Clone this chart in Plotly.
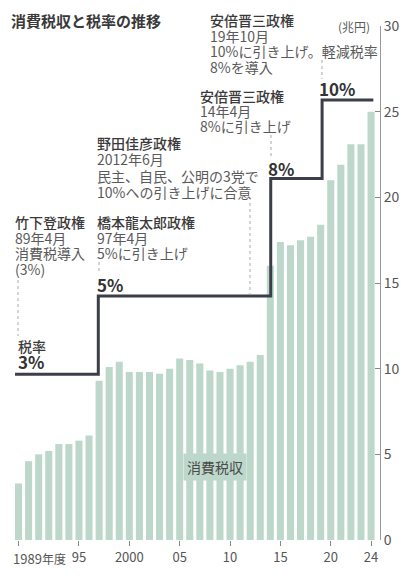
import plotly.graph_objects as go

# 消費税収（兆円）1989〜2024年度
years = list(range(1989, 2025))
revenue = [3.3, 4.6, 5.0, 5.2, 5.6, 5.6, 5.8, 6.1, 9.3, 10.1, 10.4, 9.8,
           9.8, 9.8, 9.7, 10.0, 10.6, 10.5, 10.3, 9.9, 9.8, 10.0, 10.2, 10.4,
           10.8, 16.0, 17.4, 17.2, 17.5, 17.7, 18.4, 21.0, 21.9, 23.1, 23.1, 25.0]

# 税率の推移（段階線）
rate_x = [1988.65, 1996.92, 2014.04, 2019.14, 2024.23]
rate_y = [3, 5, 8, 10, 10]

tick_vals = [1989, 1995, 2000, 2005, 2010, 2015, 2020, 2024]
tick_text = ["", "95", "2000", "05", "10", "15", "20", "24"]

# ページの余白(8px)を差し引いた大きさ
W, H = 399, 568
L, R, T, B = 5, 27, 18, 36
FONT = "Noto Sans CJK JP"
BAR = "#bdd8ca"
LINE = "#3c3f49"
DARK = "#3a3a3a"
GRAY = "#5a5a5a"

PW = 367
PH = 514


# 画面上の位置(px) -> paper座標
def px(x):
    return (x - 13) / PW


def py(y):
    return (540 - y) / PH


fig = go.Figure()

fig.add_trace(go.Bar(x=years, y=revenue, marker_color=BAR, marker_line_width=0,
                     hoverinfo="x+y"))

fig.add_trace(go.Scatter(x=rate_x, y=rate_y, yaxis="y2", mode="lines",
                         line=dict(color=LINE, width=3, shape="hv")))

ann = []


def txt(x, y, s, size=14, color=GRAY, bold=False, anchor="left", bg=None, pad=0):
    ann.append(dict(x=px(x), y=py(y), xref="paper", yref="paper", text=s,
                    showarrow=False, xanchor=anchor, yanchor="middle", align="left",
                    font=dict(family=FONT, size=size, color=color,
                              weight="bold" if bold else "normal"),
                    bgcolor=bg, borderpad=pad))


def block(x, yc, lines, base=12):
    parts = []
    for i, s in enumerate(lines):
        if i == 0:
            parts.append("<span style='font-size:14px;color:%s;font-weight:500'>%s</span>" % (DARK, s))
        else:
            parts.append("<span style='font-size:14px;color:%s'>%s</span>" % (GRAY, s))
    txt(x, yc, "<br>".join(parts), size=base)


txt(10, 20, "消費税収と税率の推移", size=15, color="#3a3a3a", bold=True)
txt(354, 26, "(兆円)", size=12, color=GRAY, anchor="center")

block(209, 43, ["安倍晋三政権", "19年10月", "10%に引き上げ。軽減税率", "8%を導入"])
block(199, 111, ["安倍晋三政権", "14年4月", "8%に引き上げ"], base=11.6)
block(96, 167, ["野田佳彦政権", "2012年6月", "民主、自民、公明の3党で", "10%への引き上げに合意"],
      base=12.5)
block(14, 245, ["竹下登政権", "89年4月", "消費税導入", "(3%)"])
block(96, 237, ["橋本龍太郎政権", "97年4月", "5%に引き上げ"])

txt(17, 355, "<span style='font-size:14px;color:%s;font-weight:500'>税率</span><br>"
             "<span style='font-size:17px;color:#333333'><b>3%%</b></span>" % DARK, size=13)
for x, y, s in [(96, 284, "5%"), (267, 168, "8%"), (318, 88, "10%")]:
    txt(x, y, s, size=17, color="#333333", bold=True)

txt(215, 467, "消費税収", size=14, color="#4a4a4a", anchor="center", bg=BAR, pad=3)
txt(12, 558, "1989<span style='font-size:12px'>年度</span>", size=13, color="#555555")

shapes = []
for x, y0, y1 in [(18, 280, 336), (99, 262, 273), (250, 203, 294),
                  (271, 135, 158), (322, 60, 79)]:
    shapes.append(dict(type="line", xref="paper", yref="paper",
                       x0=px(x), x1=px(x), y0=py(y0), y1=py(y1),
                       line=dict(color="#a8a8a8", width=1, dash="dot")))

fig.update_layout(
    width=W, height=H,
    margin=dict(l=L, r=R, t=T, b=B),
    paper_bgcolor="white", plot_bgcolor="white",
    showlegend=False, bargap=0.3,
    font=dict(family=FONT, color="#555555"),
    annotations=ann, shapes=shapes,
    xaxis=dict(range=[1988.45, 2024.89], tickvals=tick_vals, ticktext=tick_text,
               ticks="outside", ticklen=5, tickcolor="#888888",
               tickfont=dict(size=13, color="#555555"),
               showgrid=False, zeroline=False, showline=False),
    yaxis=dict(range=[0, 30], side="right", tickvals=[0, 5, 10, 15, 20, 25, 30],
               ticks="inside", ticklen=5, tickcolor="#888888",
               showline=True, linecolor="#999999", linewidth=1,
               tickfont=dict(size=14, color="#555555"),
               showgrid=False, zeroline=False),
    yaxis2=dict(range=[-1.229, 11.889], overlaying="y", visible=False),
)

fig.write_html("out.html")
